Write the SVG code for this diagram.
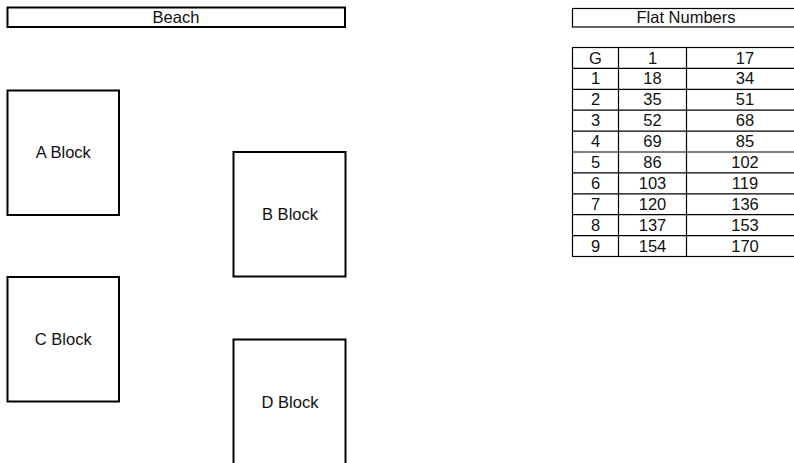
<svg xmlns="http://www.w3.org/2000/svg" width="794" height="463" viewBox="0 0 794 463">
<style>
.box{fill:#fff;stroke:#000;stroke-width:2}
.thin{fill:none;stroke:#000;stroke-width:1.2}
text{font-family:"Liberation Sans",Arial,sans-serif;font-size:16.5px;fill:#111;text-anchor:middle}
</style>
<rect width="794" height="463" fill="#fff"/>
<g id="beach">
<rect class="box" x="7.5" y="7.5" width="337.5" height="19.5"/>
<text x="176" y="22.9">Beach</text>
</g>
<g id="flat-numbers-title">
<rect class="thin" x="572.5" y="8.5" width="230" height="18.5"/>
<text x="686" y="22.9">Flat Numbers</text>
</g>
<g id="block-a">
<rect class="box" x="7.5" y="90.5" width="111.5" height="124.5"/>
<text x="63.3" y="157.5">A Block</text>
</g>
<g id="block-b">
<rect class="box" x="233.5" y="152" width="112" height="124.5"/>
<text x="290" y="220.2">B Block</text>
</g>
<g id="block-c">
<rect class="box" x="7.5" y="277" width="111.5" height="124.5"/>
<text x="63.3" y="345.2">C Block</text>
</g>
<g id="block-d">
<rect class="box" x="233.5" y="339.5" width="112" height="130"/>
<text x="290" y="407.5">D Block</text>
</g>
<g id="flat-table">
<rect class="thin" x="572.5" y="47.5" width="230" height="209"/>
<g stroke="#000" stroke-width="1.2">
<line x1="618.5" y1="47.5" x2="618.5" y2="256.5"/>
<line x1="686.5" y1="47.5" x2="686.5" y2="256.5"/>
<line x1="572.5" y1="68.4" x2="803" y2="68.4"/>
<line x1="572.5" y1="89.3" x2="803" y2="89.3"/>
<line x1="572.5" y1="110.2" x2="803" y2="110.2"/>
<line x1="572.5" y1="131.1" x2="803" y2="131.1"/>
<line x1="572.5" y1="152" x2="803" y2="152"/>
<line x1="572.5" y1="172.9" x2="803" y2="172.9"/>
<line x1="572.5" y1="193.8" x2="803" y2="193.8"/>
<line x1="572.5" y1="214.7" x2="803" y2="214.7"/>
<line x1="572.5" y1="235.6" x2="803" y2="235.6"/>
</g>
<text x="595.5" y="63.5">G</text><text x="652.5" y="63.5">1</text><text x="745" y="63.5">17</text>
<text x="595.5" y="84.4">1</text><text x="652.5" y="84.4">18</text><text x="745" y="84.4">34</text>
<text x="595.5" y="105.3">2</text><text x="652.5" y="105.3">35</text><text x="745" y="105.3">51</text>
<text x="595.5" y="126.2">3</text><text x="652.5" y="126.2">52</text><text x="745" y="126.2">68</text>
<text x="595.5" y="147.1">4</text><text x="652.5" y="147.1">69</text><text x="745" y="147.1">85</text>
<text x="595.5" y="168">5</text><text x="652.5" y="168">86</text><text x="745" y="168">102</text>
<text x="595.5" y="188.9">6</text><text x="652.5" y="188.9">103</text><text x="745" y="188.9">119</text>
<text x="595.5" y="209.8">7</text><text x="652.5" y="209.8">120</text><text x="745" y="209.8">136</text>
<text x="595.5" y="230.7">8</text><text x="652.5" y="230.7">137</text><text x="745" y="230.7">153</text>
<text x="595.5" y="251.6">9</text><text x="652.5" y="251.6">154</text><text x="745" y="251.6">170</text>
</g>
<g id="connectors"></g>
</svg>
